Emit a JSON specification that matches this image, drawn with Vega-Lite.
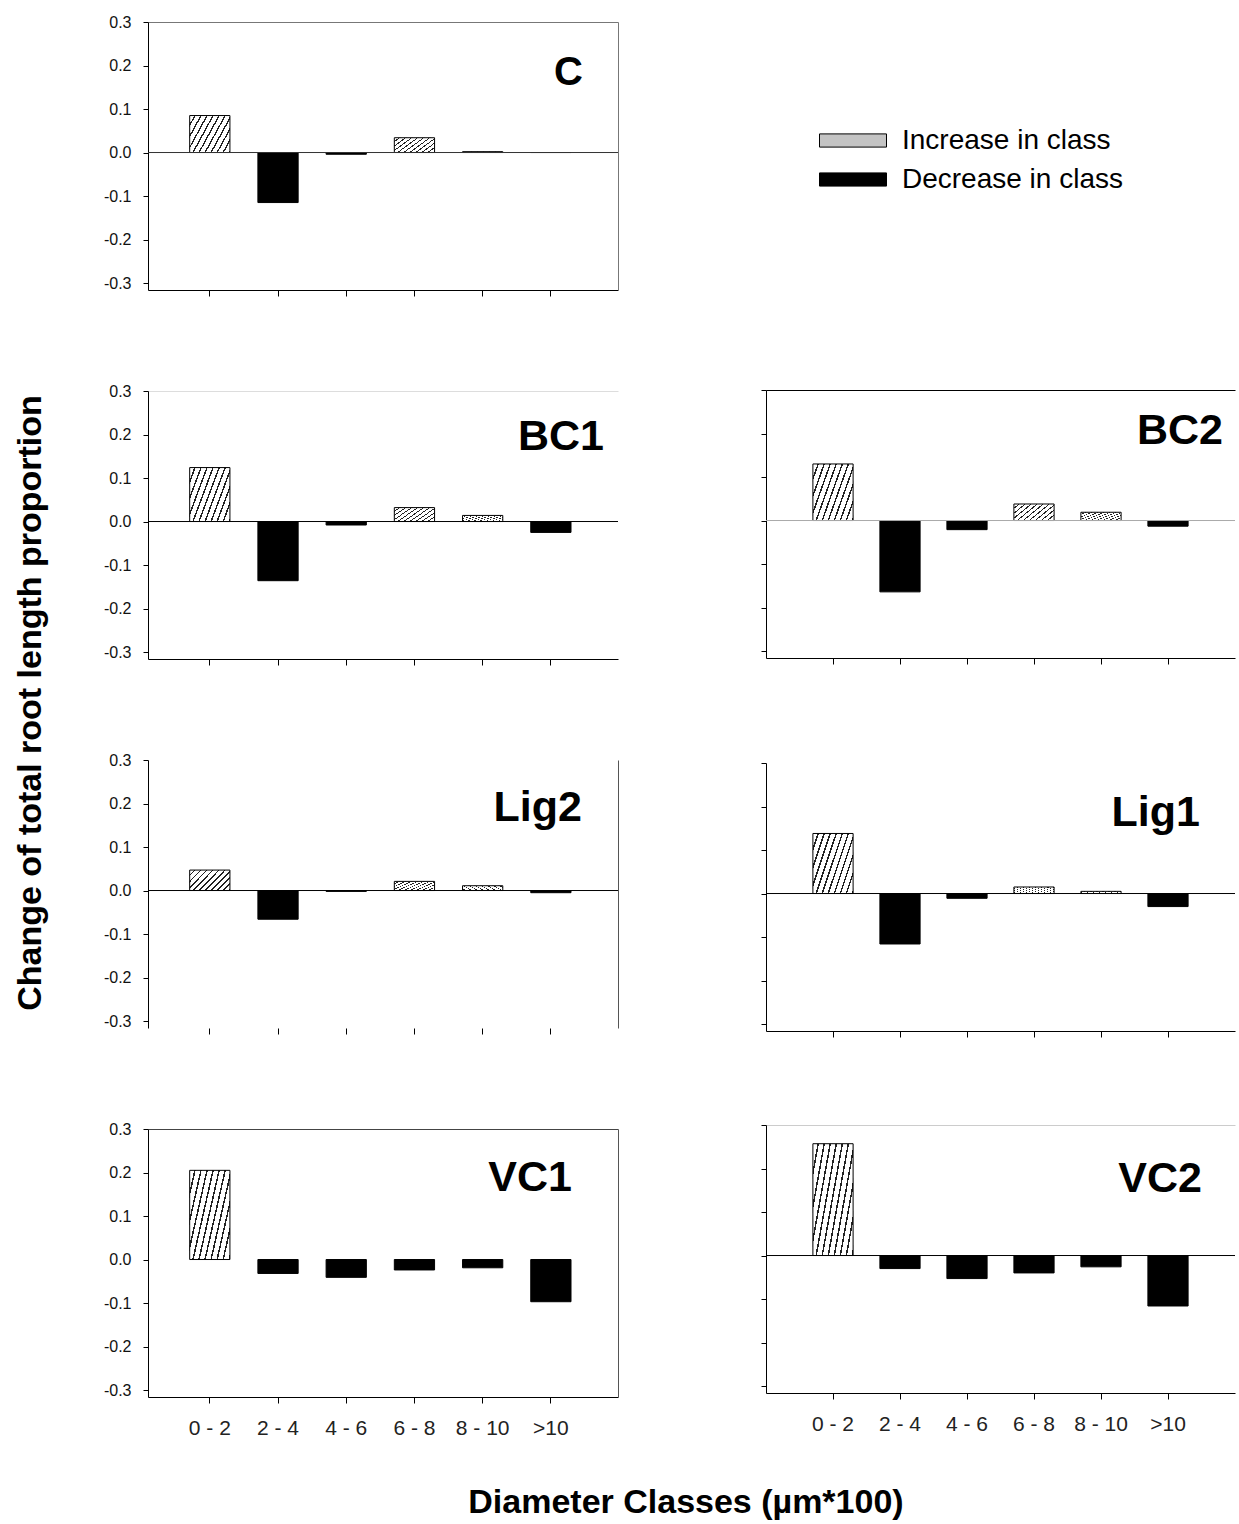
{
  "$schema": "https://vega.github.io/schema/vega-lite/v6.json",
  "background": "white",
  "padding": {"left": 14, "top": 14, "right": 0, "bottom": 0},
  "config": {
    "view": {"stroke": null},
    "font": "Liberation Sans",
    "axis": {"grid": false, "domainColor": "#000", "tickColor": "#000", "labelFont": "Liberation Sans", "labelColor": "#111", "domainWidth": 1, "tickWidth": 1}
  },
  "datasets": {
    "d": [
      {"panel": "C", "cls": "0 - 2", "value": 0.085},
      {"panel": "C", "cls": "2 - 4", "value": -0.115},
      {"panel": "C", "cls": "4 - 6", "value": -0.004},
      {"panel": "C", "cls": "6 - 8", "value": 0.034},
      {"panel": "C", "cls": "8 - 10", "value": 0.002},
      {"panel": "C", "cls": ">10", "value": 0},
      {"panel": "BC1", "cls": "0 - 2", "value": 0.124},
      {"panel": "BC1", "cls": "2 - 4", "value": -0.136},
      {"panel": "BC1", "cls": "4 - 6", "value": -0.008},
      {"panel": "BC1", "cls": "6 - 8", "value": 0.032},
      {"panel": "BC1", "cls": "8 - 10", "value": 0.014},
      {"panel": "BC1", "cls": ">10", "value": -0.025},
      {"panel": "BC2", "cls": "0 - 2", "value": 0.13},
      {"panel": "BC2", "cls": "2 - 4", "value": -0.164},
      {"panel": "BC2", "cls": "4 - 6", "value": -0.021},
      {"panel": "BC2", "cls": "6 - 8", "value": 0.038},
      {"panel": "BC2", "cls": "8 - 10", "value": 0.019},
      {"panel": "BC2", "cls": ">10", "value": -0.013},
      {"panel": "Lig2", "cls": "0 - 2", "value": 0.047},
      {"panel": "Lig2", "cls": "2 - 4", "value": -0.066},
      {"panel": "Lig2", "cls": "4 - 6", "value": -0.002},
      {"panel": "Lig2", "cls": "6 - 8", "value": 0.021},
      {"panel": "Lig2", "cls": "8 - 10", "value": 0.011},
      {"panel": "Lig2", "cls": ">10", "value": -0.005},
      {"panel": "Lig1", "cls": "0 - 2", "value": 0.138},
      {"panel": "Lig1", "cls": "2 - 4", "value": -0.116},
      {"panel": "Lig1", "cls": "4 - 6", "value": -0.011},
      {"panel": "Lig1", "cls": "6 - 8", "value": 0.015},
      {"panel": "Lig1", "cls": "8 - 10", "value": 0.005},
      {"panel": "Lig1", "cls": ">10", "value": -0.03},
      {"panel": "VC1", "cls": "0 - 2", "value": 0.205},
      {"panel": "VC1", "cls": "2 - 4", "value": -0.032},
      {"panel": "VC1", "cls": "4 - 6", "value": -0.041},
      {"panel": "VC1", "cls": "6 - 8", "value": -0.024},
      {"panel": "VC1", "cls": "8 - 10", "value": -0.019},
      {"panel": "VC1", "cls": ">10", "value": -0.097},
      {"panel": "VC2", "cls": "0 - 2", "value": 0.257},
      {"panel": "VC2", "cls": "2 - 4", "value": -0.03},
      {"panel": "VC2", "cls": "4 - 6", "value": -0.053},
      {"panel": "VC2", "cls": "6 - 8", "value": -0.04},
      {"panel": "VC2", "cls": "8 - 10", "value": -0.026},
      {"panel": "VC2", "cls": ">10", "value": -0.116}
    ],
    "leg": [
      {"change": "Increase in class"},
      {"change": "Decrease in class"}
    ]
  },
  "title": {"text": "Diameter Classes (µm*100)", "orient": "bottom", "anchor": "middle", "fontSize": 34, "fontWeight": "bold", "font": "Liberation Sans", "color": "#000", "offset": 48, "dx": 61},
  "spacing": 141,
  "hconcat": [
    {
      "title": {"text": "Change of total root length proportion", "orient": "left", "anchor": "middle", "fontSize": 34, "fontWeight": "bold", "font": "Liberation Sans", "color": "#000", "offset": 55, "dx": 23},
      "spacing": 86,
      "vconcat": [
        {
          "width": 470, "height": 268,
          "title": {"text": "C", "orient": "top", "anchor": "end", "frame": "group", "baseline": "alphabetic", "offset": -110.5, "dx": -35, "fontSize": 40, "fontWeight": "bold", "font": "Liberation Sans", "color": "#000"},
          "data": {"name": "d"},
          "layer": [
            {
              "transform": [{"filter": "datum.panel == 'C'"}],
              "mark": {"type": "bar", "stroke": "#000", "strokeWidth": 1},
              "encoding": {
                "x": {"field": "cls", "type": "nominal", "sort": null, "scale": {"domain": ["0 - 2", "2 - 4", "4 - 6", "6 - 8", "8 - 10", ">10"], "paddingInner": 0.41, "paddingOuter": 0.65, "align": 0.47}, "axis": {"orient": "bottom", "title": null, "labels": false, "tickSize": 6}},
                "y": {"field": "value", "type": "quantitative", "scale": {"domain": [-0.316, 0.3], "nice": false, "zero": false}, "axis": {"orient": "left", "title": null, "values": [-0.3, -0.2, -0.1, 0, 0.1, 0.2, 0.3], "labelExpr": "replace(format(datum.value, '.1f'), '−', '-')", "labelFontSize": 16, "tickSize": 5, "labelPadding": 12}},
                "fill": {"condition": {"test": "datum.value > 0", "value": {"gradient": "linear", "x1": 0, "y1": 0, "x2": 1.2, "y2": 0.6, "stops": [{"offset": 0, "color": "#fff"}, {"offset": 0.075, "color": "#fff"}, {"offset": 0.075, "color": "#222"}, {"offset": 0.1, "color": "#222"}, {"offset": 0.1, "color": "#fff"}, {"offset": 0.175, "color": "#fff"}, {"offset": 0.175, "color": "#222"}, {"offset": 0.2, "color": "#222"}, {"offset": 0.2, "color": "#fff"}, {"offset": 0.275, "color": "#fff"}, {"offset": 0.275, "color": "#222"}, {"offset": 0.3, "color": "#222"}, {"offset": 0.3, "color": "#fff"}, {"offset": 0.375, "color": "#fff"}, {"offset": 0.375, "color": "#222"}, {"offset": 0.4, "color": "#222"}, {"offset": 0.4, "color": "#fff"}, {"offset": 0.475, "color": "#fff"}, {"offset": 0.475, "color": "#222"}, {"offset": 0.5, "color": "#222"}, {"offset": 0.5, "color": "#fff"}, {"offset": 0.575, "color": "#fff"}, {"offset": 0.575, "color": "#222"}, {"offset": 0.6, "color": "#222"}, {"offset": 0.6, "color": "#fff"}, {"offset": 0.675, "color": "#fff"}, {"offset": 0.675, "color": "#222"}, {"offset": 0.7, "color": "#222"}, {"offset": 0.7, "color": "#fff"}, {"offset": 0.775, "color": "#fff"}, {"offset": 0.775, "color": "#222"}, {"offset": 0.8, "color": "#222"}, {"offset": 0.8, "color": "#fff"}, {"offset": 0.875, "color": "#fff"}, {"offset": 0.875, "color": "#222"}, {"offset": 0.9, "color": "#222"}, {"offset": 0.9, "color": "#fff"}, {"offset": 0.975, "color": "#fff"}, {"offset": 0.975, "color": "#222"}, {"offset": 1, "color": "#222"}]}}, "value": "#000"}
              }
            },
            {
              "data": {"values": [{"z": 0}]},
              "mark": {"type": "rule", "color": "#333", "strokeWidth": 1},
              "encoding": {"y": {"datum": 0, "type": "quantitative", "axis": null}}
            },
            {
              "transform": [{"filter": "datum.panel == 'C'"}],
              "mark": {"type": "tick", "opacity": 0},
              "encoding": {
                "x": {"field": "cls", "type": "nominal", "sort": null, "axis": {"orient": "top", "title": null, "labels": false, "ticks": false, "domain": true, "domainColor": "#777"}},
                "y": {"field": "value", "type": "quantitative", "axis": {"orient": "right", "title": null, "labels": false, "ticks": false, "domain": true, "domainColor": "#777"}}
              }
            }
          ],
          "resolve": {"axis": {"x": "independent", "y": "independent"}}
        },
        {
          "width": 470, "height": 268,
          "title": {"text": "BC1", "orient": "top", "anchor": "end", "frame": "group", "baseline": "alphabetic", "offset": -110, "dx": -14, "fontSize": 43, "fontWeight": "bold", "font": "Liberation Sans", "color": "#000"},
          "data": {"name": "d"},
          "layer": [
            {
              "transform": [{"filter": "datum.panel == 'BC1'"}],
              "mark": {"type": "bar", "stroke": "#000", "strokeWidth": 1},
              "encoding": {
                "x": {"field": "cls", "type": "nominal", "sort": null, "scale": {"domain": ["0 - 2", "2 - 4", "4 - 6", "6 - 8", "8 - 10", ">10"], "paddingInner": 0.41, "paddingOuter": 0.65, "align": 0.47}, "axis": {"orient": "bottom", "title": null, "labels": false, "tickSize": 6}},
                "y": {"field": "value", "type": "quantitative", "scale": {"domain": [-0.316, 0.3], "nice": false, "zero": false}, "axis": {"orient": "left", "title": null, "values": [-0.3, -0.2, -0.1, 0, 0.1, 0.2, 0.3], "labelExpr": "replace(format(datum.value, '.1f'), '−', '-')", "labelFontSize": 16, "tickSize": 5, "labelPadding": 12}},
                "fill": {"condition": {"test": "datum.value > 0", "value": {"gradient": "linear", "x1": 0, "y1": 0, "x2": 1.2, "y2": 0.6, "stops": [{"offset": 0, "color": "#fff"}, {"offset": 0.075, "color": "#fff"}, {"offset": 0.075, "color": "#222"}, {"offset": 0.1, "color": "#222"}, {"offset": 0.1, "color": "#fff"}, {"offset": 0.175, "color": "#fff"}, {"offset": 0.175, "color": "#222"}, {"offset": 0.2, "color": "#222"}, {"offset": 0.2, "color": "#fff"}, {"offset": 0.275, "color": "#fff"}, {"offset": 0.275, "color": "#222"}, {"offset": 0.3, "color": "#222"}, {"offset": 0.3, "color": "#fff"}, {"offset": 0.375, "color": "#fff"}, {"offset": 0.375, "color": "#222"}, {"offset": 0.4, "color": "#222"}, {"offset": 0.4, "color": "#fff"}, {"offset": 0.475, "color": "#fff"}, {"offset": 0.475, "color": "#222"}, {"offset": 0.5, "color": "#222"}, {"offset": 0.5, "color": "#fff"}, {"offset": 0.575, "color": "#fff"}, {"offset": 0.575, "color": "#222"}, {"offset": 0.6, "color": "#222"}, {"offset": 0.6, "color": "#fff"}, {"offset": 0.675, "color": "#fff"}, {"offset": 0.675, "color": "#222"}, {"offset": 0.7, "color": "#222"}, {"offset": 0.7, "color": "#fff"}, {"offset": 0.775, "color": "#fff"}, {"offset": 0.775, "color": "#222"}, {"offset": 0.8, "color": "#222"}, {"offset": 0.8, "color": "#fff"}, {"offset": 0.875, "color": "#fff"}, {"offset": 0.875, "color": "#222"}, {"offset": 0.9, "color": "#222"}, {"offset": 0.9, "color": "#fff"}, {"offset": 0.975, "color": "#fff"}, {"offset": 0.975, "color": "#222"}, {"offset": 1, "color": "#222"}]}}, "value": "#000"}
              }
            },
            {
              "data": {"values": [{"z": 0}]},
              "mark": {"type": "rule", "color": "#000", "strokeWidth": 1},
              "encoding": {"y": {"datum": 0, "type": "quantitative", "axis": null}}
            },
            {
              "transform": [{"filter": "datum.panel == 'BC1'"}],
              "mark": {"type": "tick", "opacity": 0},
              "encoding": {
                "x": {"field": "cls", "type": "nominal", "sort": null, "axis": {"orient": "top", "title": null, "labels": false, "ticks": false, "domain": true, "domainColor": "#ddd"}},
                "y": {"field": "value", "type": "quantitative", "axis": null}
              }
            }
          ],
          "resolve": {"axis": {"x": "independent", "y": "independent"}}
        },
        {
          "width": 470, "height": 268,
          "title": {"text": "Lig2", "orient": "top", "anchor": "end", "frame": "group", "baseline": "alphabetic", "offset": -111.5, "dx": -36, "fontSize": 43, "fontWeight": "bold", "font": "Liberation Sans", "color": "#000"},
          "data": {"name": "d"},
          "layer": [
            {
              "transform": [{"filter": "datum.panel == 'Lig2'"}],
              "mark": {"type": "bar", "stroke": "#000", "strokeWidth": 1},
              "encoding": {
                "x": {"field": "cls", "type": "nominal", "sort": null, "scale": {"domain": ["0 - 2", "2 - 4", "4 - 6", "6 - 8", "8 - 10", ">10"], "paddingInner": 0.41, "paddingOuter": 0.65, "align": 0.47}, "axis": {"orient": "bottom", "title": null, "labels": false, "domain": false, "tickSize": 6}},
                "y": {"field": "value", "type": "quantitative", "scale": {"domain": [-0.316, 0.3], "nice": false, "zero": false}, "axis": {"orient": "left", "title": null, "values": [-0.3, -0.2, -0.1, 0, 0.1, 0.2, 0.3], "labelExpr": "replace(format(datum.value, '.1f'), '−', '-')", "labelFontSize": 16, "tickSize": 5, "labelPadding": 12}},
                "fill": {"condition": {"test": "datum.value > 0", "value": {"gradient": "linear", "x1": 0, "y1": 0, "x2": 1.2, "y2": 0.6, "stops": [{"offset": 0, "color": "#fff"}, {"offset": 0.075, "color": "#fff"}, {"offset": 0.075, "color": "#222"}, {"offset": 0.1, "color": "#222"}, {"offset": 0.1, "color": "#fff"}, {"offset": 0.175, "color": "#fff"}, {"offset": 0.175, "color": "#222"}, {"offset": 0.2, "color": "#222"}, {"offset": 0.2, "color": "#fff"}, {"offset": 0.275, "color": "#fff"}, {"offset": 0.275, "color": "#222"}, {"offset": 0.3, "color": "#222"}, {"offset": 0.3, "color": "#fff"}, {"offset": 0.375, "color": "#fff"}, {"offset": 0.375, "color": "#222"}, {"offset": 0.4, "color": "#222"}, {"offset": 0.4, "color": "#fff"}, {"offset": 0.475, "color": "#fff"}, {"offset": 0.475, "color": "#222"}, {"offset": 0.5, "color": "#222"}, {"offset": 0.5, "color": "#fff"}, {"offset": 0.575, "color": "#fff"}, {"offset": 0.575, "color": "#222"}, {"offset": 0.6, "color": "#222"}, {"offset": 0.6, "color": "#fff"}, {"offset": 0.675, "color": "#fff"}, {"offset": 0.675, "color": "#222"}, {"offset": 0.7, "color": "#222"}, {"offset": 0.7, "color": "#fff"}, {"offset": 0.775, "color": "#fff"}, {"offset": 0.775, "color": "#222"}, {"offset": 0.8, "color": "#222"}, {"offset": 0.8, "color": "#fff"}, {"offset": 0.875, "color": "#fff"}, {"offset": 0.875, "color": "#222"}, {"offset": 0.9, "color": "#222"}, {"offset": 0.9, "color": "#fff"}, {"offset": 0.975, "color": "#fff"}, {"offset": 0.975, "color": "#222"}, {"offset": 1, "color": "#222"}]}}, "value": "#000"}
              }
            },
            {
              "data": {"values": [{"z": 0}]},
              "mark": {"type": "rule", "color": "#000", "strokeWidth": 1},
              "encoding": {"y": {"datum": 0, "type": "quantitative", "axis": null}}
            },
            {
              "transform": [{"filter": "datum.panel == 'Lig2'"}],
              "mark": {"type": "tick", "opacity": 0},
              "encoding": {
                "x": {"field": "cls", "type": "nominal", "sort": null, "axis": null},
                "y": {"field": "value", "type": "quantitative", "axis": {"orient": "right", "title": null, "labels": false, "ticks": false, "domain": true, "domainColor": "#555"}}
              }
            }
          ],
          "resolve": {"axis": {"x": "independent", "y": "independent"}}
        },
        {
          "width": 470, "height": 268,
          "title": {"text": "VC1", "orient": "top", "anchor": "end", "frame": "group", "baseline": "alphabetic", "offset": -112.5, "dx": -46, "fontSize": 43, "fontWeight": "bold", "font": "Liberation Sans", "color": "#000"},
          "data": {"name": "d"},
          "layer": [
            {
              "transform": [{"filter": "datum.panel == 'VC1'"}],
              "mark": {"type": "bar", "stroke": "#000", "strokeWidth": 1},
              "encoding": {
                "x": {"field": "cls", "type": "nominal", "sort": null, "scale": {"domain": ["0 - 2", "2 - 4", "4 - 6", "6 - 8", "8 - 10", ">10"], "paddingInner": 0.41, "paddingOuter": 0.65, "align": 0.47}, "axis": {"orient": "bottom", "title": null, "labels": true, "labelAngle": 0, "labelFontSize": 21, "labelPadding": 14, "labelColor": "#222", "tickSize": 6}},
                "y": {"field": "value", "type": "quantitative", "scale": {"domain": [-0.316, 0.3], "nice": false, "zero": false}, "axis": {"orient": "left", "title": null, "values": [-0.3, -0.2, -0.1, 0, 0.1, 0.2, 0.3], "labelExpr": "replace(format(datum.value, '.1f'), '−', '-')", "labelFontSize": 16, "tickSize": 5, "labelPadding": 12}},
                "fill": {"condition": {"test": "datum.value > 0", "value": {"gradient": "linear", "x1": 0, "y1": 0, "x2": 1.2, "y2": 0.6, "stops": [{"offset": 0, "color": "#fff"}, {"offset": 0.075, "color": "#fff"}, {"offset": 0.075, "color": "#222"}, {"offset": 0.1, "color": "#222"}, {"offset": 0.1, "color": "#fff"}, {"offset": 0.175, "color": "#fff"}, {"offset": 0.175, "color": "#222"}, {"offset": 0.2, "color": "#222"}, {"offset": 0.2, "color": "#fff"}, {"offset": 0.275, "color": "#fff"}, {"offset": 0.275, "color": "#222"}, {"offset": 0.3, "color": "#222"}, {"offset": 0.3, "color": "#fff"}, {"offset": 0.375, "color": "#fff"}, {"offset": 0.375, "color": "#222"}, {"offset": 0.4, "color": "#222"}, {"offset": 0.4, "color": "#fff"}, {"offset": 0.475, "color": "#fff"}, {"offset": 0.475, "color": "#222"}, {"offset": 0.5, "color": "#222"}, {"offset": 0.5, "color": "#fff"}, {"offset": 0.575, "color": "#fff"}, {"offset": 0.575, "color": "#222"}, {"offset": 0.6, "color": "#222"}, {"offset": 0.6, "color": "#fff"}, {"offset": 0.675, "color": "#fff"}, {"offset": 0.675, "color": "#222"}, {"offset": 0.7, "color": "#222"}, {"offset": 0.7, "color": "#fff"}, {"offset": 0.775, "color": "#fff"}, {"offset": 0.775, "color": "#222"}, {"offset": 0.8, "color": "#222"}, {"offset": 0.8, "color": "#fff"}, {"offset": 0.875, "color": "#fff"}, {"offset": 0.875, "color": "#222"}, {"offset": 0.9, "color": "#222"}, {"offset": 0.9, "color": "#fff"}, {"offset": 0.975, "color": "#fff"}, {"offset": 0.975, "color": "#222"}, {"offset": 1, "color": "#222"}]}}, "value": "#000"}
              }
            },
            {
              "transform": [{"filter": "datum.panel == 'VC1'"}],
              "mark": {"type": "tick", "opacity": 0},
              "encoding": {
                "x": {"field": "cls", "type": "nominal", "sort": null, "axis": {"orient": "top", "title": null, "labels": false, "ticks": false, "domain": true, "domainColor": "#444"}},
                "y": {"field": "value", "type": "quantitative", "axis": {"orient": "right", "title": null, "labels": false, "ticks": false, "domain": true, "domainColor": "#555"}}
              }
            }
          ],
          "resolve": {"axis": {"x": "independent", "y": "independent"}}
        }
      ]
    },
    {
      "spacing": 97,
      "vconcat": [
        {
          "width": 469, "height": 270,
          "data": {"name": "leg"},
          "mark": {"type": "bar", "opacity": 0},
          "encoding": {
            "fill": {
              "field": "change", "type": "nominal",
              "scale": {"domain": ["Increase in class", "Decrease in class"], "range": ["#c4c4c4", "#000"]},
              "legend": {
                "title": null, "orient": "none", "legendX": 684.5, "legendY": 98, "padding": 0,
                "labelFontSize": 28, "labelFont": "Liberation Sans", "labelColor": "#000", "labelLimit": 400, "labelOffset": 28.5,
                "symbolType": "M-1.675,-0.33H1.675V0.33H-1.675Z", "symbolSize": 1600, "symbolStrokeColor": "#000", "symbolStrokeWidth": 1, "symbolOpacity": 1, "rowPadding": 4
              }
            }
          }
        },
        {
          "width": 469, "height": 268,
          "title": {"text": "BC2", "orient": "top", "anchor": "end", "frame": "group", "baseline": "alphabetic", "offset": -97.5, "dx": -12, "fontSize": 43, "fontWeight": "bold", "font": "Liberation Sans", "color": "#000"},
          "data": {"name": "d"},
          "layer": [
            {
              "transform": [{"filter": "datum.panel == 'BC2'"}],
              "mark": {"type": "bar", "stroke": "#000", "strokeWidth": 1},
              "encoding": {
                "x": {"field": "cls", "type": "nominal", "sort": null, "scale": {"domain": ["0 - 2", "2 - 4", "4 - 6", "6 - 8", "8 - 10", ">10"], "paddingInner": 0.4, "paddingOuter": 0.7, "align": 0.5}, "axis": {"orient": "bottom", "title": null, "labels": false, "tickSize": 6}},
                "y": {"field": "value", "type": "quantitative", "scale": {"domain": [-0.316, 0.3], "nice": false, "zero": false}, "axis": {"orient": "left", "title": null, "values": [-0.3, -0.2, -0.1, 0, 0.1, 0.2, 0.3], "labels": false, "tickSize": 5}},
                "fill": {"condition": {"test": "datum.value > 0", "value": {"gradient": "linear", "x1": 0, "y1": 0, "x2": 1.2, "y2": 0.6, "stops": [{"offset": 0, "color": "#fff"}, {"offset": 0.075, "color": "#fff"}, {"offset": 0.075, "color": "#222"}, {"offset": 0.1, "color": "#222"}, {"offset": 0.1, "color": "#fff"}, {"offset": 0.175, "color": "#fff"}, {"offset": 0.175, "color": "#222"}, {"offset": 0.2, "color": "#222"}, {"offset": 0.2, "color": "#fff"}, {"offset": 0.275, "color": "#fff"}, {"offset": 0.275, "color": "#222"}, {"offset": 0.3, "color": "#222"}, {"offset": 0.3, "color": "#fff"}, {"offset": 0.375, "color": "#fff"}, {"offset": 0.375, "color": "#222"}, {"offset": 0.4, "color": "#222"}, {"offset": 0.4, "color": "#fff"}, {"offset": 0.475, "color": "#fff"}, {"offset": 0.475, "color": "#222"}, {"offset": 0.5, "color": "#222"}, {"offset": 0.5, "color": "#fff"}, {"offset": 0.575, "color": "#fff"}, {"offset": 0.575, "color": "#222"}, {"offset": 0.6, "color": "#222"}, {"offset": 0.6, "color": "#fff"}, {"offset": 0.675, "color": "#fff"}, {"offset": 0.675, "color": "#222"}, {"offset": 0.7, "color": "#222"}, {"offset": 0.7, "color": "#fff"}, {"offset": 0.775, "color": "#fff"}, {"offset": 0.775, "color": "#222"}, {"offset": 0.8, "color": "#222"}, {"offset": 0.8, "color": "#fff"}, {"offset": 0.875, "color": "#fff"}, {"offset": 0.875, "color": "#222"}, {"offset": 0.9, "color": "#222"}, {"offset": 0.9, "color": "#fff"}, {"offset": 0.975, "color": "#fff"}, {"offset": 0.975, "color": "#222"}, {"offset": 1, "color": "#222"}]}}, "value": "#000"}
              }
            },
            {
              "data": {"values": [{"z": 0}]},
              "mark": {"type": "rule", "color": "#aaa", "strokeWidth": 1},
              "encoding": {"y": {"datum": 0, "type": "quantitative", "axis": null}}
            },
            {
              "transform": [{"filter": "datum.panel == 'BC2'"}],
              "mark": {"type": "tick", "opacity": 0},
              "encoding": {
                "x": {"field": "cls", "type": "nominal", "sort": null, "axis": {"orient": "top", "title": null, "labels": false, "ticks": false, "domain": true, "domainColor": "#000"}},
                "y": {"field": "value", "type": "quantitative", "axis": null}
              }
            }
          ],
          "resolve": {"axis": {"x": "independent", "y": "independent"}}
        },
        {
          "spacing": 86,
          "vconcat": [
            {
              "width": 469, "height": 268,
              "title": {"text": "Lig1", "orient": "top", "anchor": "end", "frame": "group", "baseline": "alphabetic", "offset": -106.5, "dx": -35, "fontSize": 43, "fontWeight": "bold", "font": "Liberation Sans", "color": "#000"},
              "data": {"name": "d"},
              "layer": [
                {
                  "transform": [{"filter": "datum.panel == 'Lig1'"}],
                  "mark": {"type": "bar", "stroke": "#000", "strokeWidth": 1},
                  "encoding": {
                    "x": {"field": "cls", "type": "nominal", "sort": null, "scale": {"domain": ["0 - 2", "2 - 4", "4 - 6", "6 - 8", "8 - 10", ">10"], "paddingInner": 0.4, "paddingOuter": 0.7, "align": 0.5}, "axis": {"orient": "bottom", "title": null, "labels": false, "tickSize": 6}},
                    "y": {"field": "value", "type": "quantitative", "scale": {"domain": [-0.316, 0.3], "nice": false, "zero": false}, "axis": {"orient": "left", "title": null, "values": [-0.3, -0.2, -0.1, 0, 0.1, 0.2, 0.3], "labels": false, "tickSize": 5}},
                    "fill": {"condition": {"test": "datum.value > 0", "value": {"gradient": "linear", "x1": 0, "y1": 0, "x2": 1.2, "y2": 0.6, "stops": [{"offset": 0, "color": "#fff"}, {"offset": 0.075, "color": "#fff"}, {"offset": 0.075, "color": "#222"}, {"offset": 0.1, "color": "#222"}, {"offset": 0.1, "color": "#fff"}, {"offset": 0.175, "color": "#fff"}, {"offset": 0.175, "color": "#222"}, {"offset": 0.2, "color": "#222"}, {"offset": 0.2, "color": "#fff"}, {"offset": 0.275, "color": "#fff"}, {"offset": 0.275, "color": "#222"}, {"offset": 0.3, "color": "#222"}, {"offset": 0.3, "color": "#fff"}, {"offset": 0.375, "color": "#fff"}, {"offset": 0.375, "color": "#222"}, {"offset": 0.4, "color": "#222"}, {"offset": 0.4, "color": "#fff"}, {"offset": 0.475, "color": "#fff"}, {"offset": 0.475, "color": "#222"}, {"offset": 0.5, "color": "#222"}, {"offset": 0.5, "color": "#fff"}, {"offset": 0.575, "color": "#fff"}, {"offset": 0.575, "color": "#222"}, {"offset": 0.6, "color": "#222"}, {"offset": 0.6, "color": "#fff"}, {"offset": 0.675, "color": "#fff"}, {"offset": 0.675, "color": "#222"}, {"offset": 0.7, "color": "#222"}, {"offset": 0.7, "color": "#fff"}, {"offset": 0.775, "color": "#fff"}, {"offset": 0.775, "color": "#222"}, {"offset": 0.8, "color": "#222"}, {"offset": 0.8, "color": "#fff"}, {"offset": 0.875, "color": "#fff"}, {"offset": 0.875, "color": "#222"}, {"offset": 0.9, "color": "#222"}, {"offset": 0.9, "color": "#fff"}, {"offset": 0.975, "color": "#fff"}, {"offset": 0.975, "color": "#222"}, {"offset": 1, "color": "#222"}]}}, "value": "#000"}
                  }
                },
                {
                  "data": {"values": [{"z": 0}]},
                  "mark": {"type": "rule", "color": "#000", "strokeWidth": 1},
                  "encoding": {"y": {"datum": 0, "type": "quantitative", "axis": null}}
                }
              ],
              "resolve": {"axis": {"x": "independent", "y": "independent"}}
            },
            {
              "width": 469, "height": 268,
              "title": {"text": "VC2", "orient": "top", "anchor": "end", "frame": "group", "baseline": "alphabetic", "offset": -110.5, "dx": -33, "fontSize": 43, "fontWeight": "bold", "font": "Liberation Sans", "color": "#000"},
              "data": {"name": "d"},
              "layer": [
                {
                  "transform": [{"filter": "datum.panel == 'VC2'"}],
                  "mark": {"type": "bar", "stroke": "#000", "strokeWidth": 1},
                  "encoding": {
                    "x": {"field": "cls", "type": "nominal", "sort": null, "scale": {"domain": ["0 - 2", "2 - 4", "4 - 6", "6 - 8", "8 - 10", ">10"], "paddingInner": 0.4, "paddingOuter": 0.7, "align": 0.5}, "axis": {"orient": "bottom", "title": null, "labels": true, "labelAngle": 0, "labelFontSize": 21, "labelPadding": 14, "labelColor": "#222", "tickSize": 6}},
                    "y": {"field": "value", "type": "quantitative", "scale": {"domain": [-0.316, 0.3], "nice": false, "zero": false}, "axis": {"orient": "left", "title": null, "values": [-0.3, -0.2, -0.1, 0, 0.1, 0.2, 0.3], "labels": false, "tickSize": 5}},
                    "fill": {"condition": {"test": "datum.value > 0", "value": {"gradient": "linear", "x1": 0, "y1": 0, "x2": 1.2, "y2": 0.6, "stops": [{"offset": 0, "color": "#fff"}, {"offset": 0.075, "color": "#fff"}, {"offset": 0.075, "color": "#222"}, {"offset": 0.1, "color": "#222"}, {"offset": 0.1, "color": "#fff"}, {"offset": 0.175, "color": "#fff"}, {"offset": 0.175, "color": "#222"}, {"offset": 0.2, "color": "#222"}, {"offset": 0.2, "color": "#fff"}, {"offset": 0.275, "color": "#fff"}, {"offset": 0.275, "color": "#222"}, {"offset": 0.3, "color": "#222"}, {"offset": 0.3, "color": "#fff"}, {"offset": 0.375, "color": "#fff"}, {"offset": 0.375, "color": "#222"}, {"offset": 0.4, "color": "#222"}, {"offset": 0.4, "color": "#fff"}, {"offset": 0.475, "color": "#fff"}, {"offset": 0.475, "color": "#222"}, {"offset": 0.5, "color": "#222"}, {"offset": 0.5, "color": "#fff"}, {"offset": 0.575, "color": "#fff"}, {"offset": 0.575, "color": "#222"}, {"offset": 0.6, "color": "#222"}, {"offset": 0.6, "color": "#fff"}, {"offset": 0.675, "color": "#fff"}, {"offset": 0.675, "color": "#222"}, {"offset": 0.7, "color": "#222"}, {"offset": 0.7, "color": "#fff"}, {"offset": 0.775, "color": "#fff"}, {"offset": 0.775, "color": "#222"}, {"offset": 0.8, "color": "#222"}, {"offset": 0.8, "color": "#fff"}, {"offset": 0.875, "color": "#fff"}, {"offset": 0.875, "color": "#222"}, {"offset": 0.9, "color": "#222"}, {"offset": 0.9, "color": "#fff"}, {"offset": 0.975, "color": "#fff"}, {"offset": 0.975, "color": "#222"}, {"offset": 1, "color": "#222"}]}}, "value": "#000"}
                  }
                },
                {
                  "data": {"values": [{"z": 0}]},
                  "mark": {"type": "rule", "color": "#000", "strokeWidth": 1},
                  "encoding": {"y": {"datum": 0, "type": "quantitative", "axis": null}}
                },
                {
                  "transform": [{"filter": "datum.panel == 'VC2'"}],
                  "mark": {"type": "tick", "opacity": 0},
                  "encoding": {
                    "x": {"field": "cls", "type": "nominal", "sort": null, "axis": {"orient": "top", "title": null, "labels": false, "ticks": false, "domain": true, "domainColor": "#ccc"}},
                    "y": {"field": "value", "type": "quantitative", "axis": null}
                  }
                }
              ],
              "resolve": {"axis": {"x": "independent", "y": "independent"}}
            }
          ]
        }
      ]
    }
  ]
}
